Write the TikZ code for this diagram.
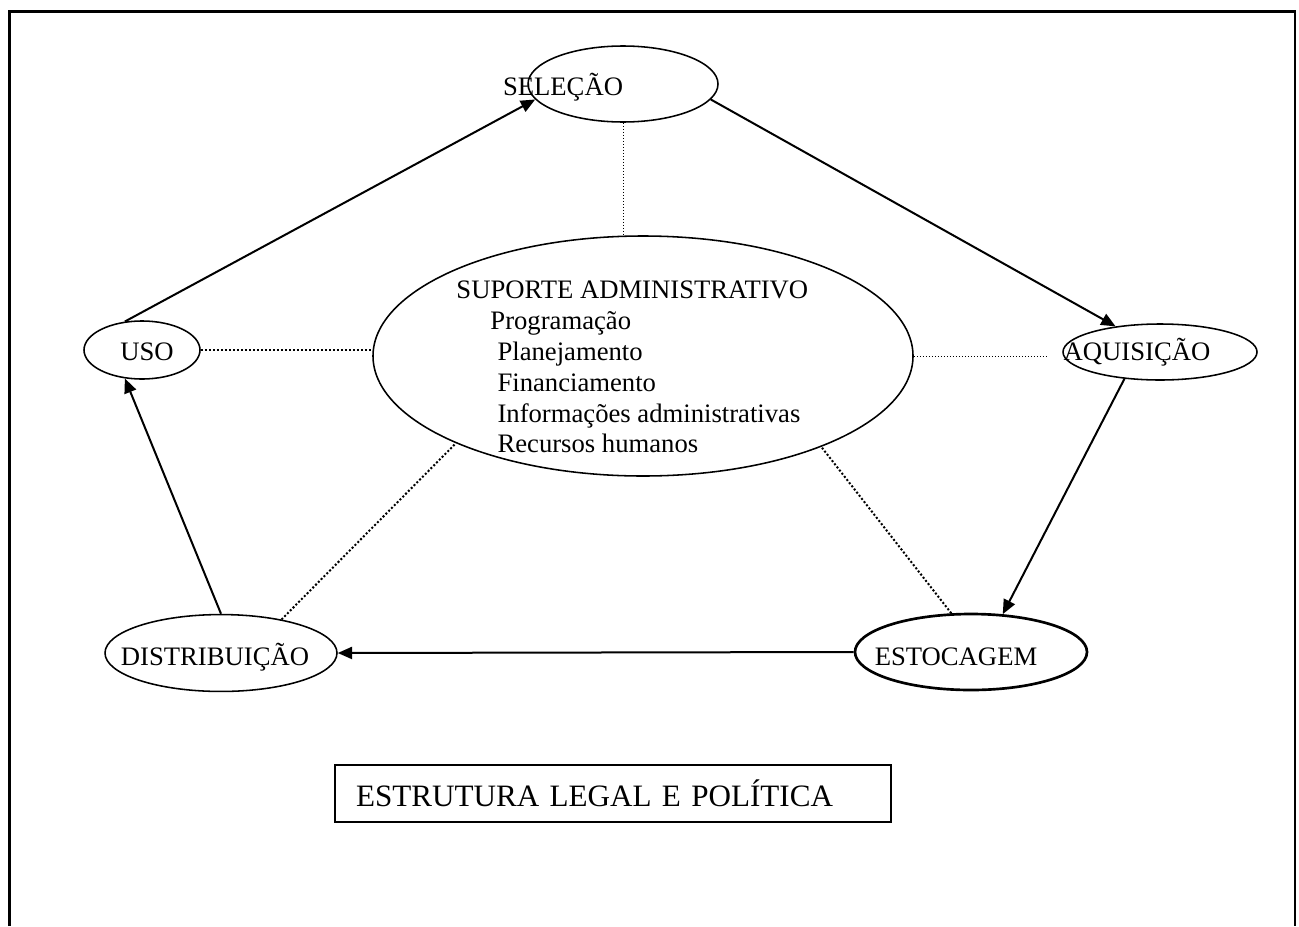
\documentclass[tikz,border=0pt]{standalone}
\usepackage{fontspec}
\setmainfont{Liberation Serif}
\usetikzlibrary{arrows.meta, shapes.geometric}

\begin{document}
\begin{tikzpicture}[x=0.45pt, y=-0.45pt,
    every node/.style={font=\fontsize{12}{13.9}\selectfont, inner sep=0pt},
    el/.style={ellipse, draw, line width=0.7pt},
    lbl/.style={inner sep=0pt},
    arr/.style={-{Triangle[length=6.5pt, width=5.5pt]}, line width=0.9pt},
    cdot/.style={line width=0.9pt, dash pattern=on 0.9pt off 0.9pt},
    fdot/.style={line width=0.45pt, dash pattern=on 0.45pt off 0.9pt},
    frame/.style={line width=1.3pt}
]
\useasboundingbox (0,0) rectangle (1299,926);
\draw[frame] (9.5,926) -- (9.5,11.5) -- (1295,11.5) -- (1295,926);

% ellipses
\node[el, minimum width=85.5pt, minimum height=34.2pt]  (sel)  at (623,84)  {};
\node[el, minimum width=87.3pt, minimum height=25.2pt]  (aq)   at (1160,352) {};
\node[el, line width=1.2pt, minimum width=104.4pt, minimum height=34.2pt] (est) at (971,652) {};
\node[el, minimum width=104.4pt, minimum height=34.6pt] (dist) at (221,653) {};
\node[el, minimum width=52.2pt, minimum height=26.1pt]  (uso)  at (142,350) {};
\node[el, minimum width=243pt, minimum height=108pt]    (sup)  at (643,356) {};

% texts
\node[lbl] (sel-t)  at (563,87)  {SELEÇÃO};
\node[lbl] (aq-t)   at (1137,352) {AQUISIÇÃO};
\node[lbl] (est-t)  at (956,657) {ESTOCAGEM};
\node[lbl] (dist-t) at (215,657) {DISTRIBUIÇÃO};
\node[lbl] (uso-t)  at (147,352) {USO};
\node[lbl, align=left, anchor=west] (sup-t) at (456,367)
  {SUPORTE ADMINISTRATIVO\\
   \hspace*{15.3pt}Programação\\
   \hspace*{18.5pt}Planejamento\\
   \hspace*{18.5pt}Financiamento\\
   \hspace*{18.5pt}Informações administrativas\\
   \hspace*{18.5pt}Recursos humanos};

% cycle
\draw[arr] (uso.121) -- (sel.190);
\draw[arr] (sel.350) -- (aq.150);
\draw[arr] (aq.217) -- (est.50);
\draw[arr] (est.west) -- (dist.east);
\draw[arr] (dist.north) -- (uso.239);

% links to the centre
\draw[fdot] (sel.south) -- (sel.south |- sup.north);
\draw[cdot] (uso.east) -- (uso.east -| sup.west);
\draw[fdot, shorten >=7pt] (sup.east) -- (sup.east -| aq.west);
\draw[cdot] (dist.29) -- (sup.205);
\draw[cdot] (est.117) -- (sup.333);

\node[draw, line width=0.7pt, minimum width=250.2pt, minimum height=25.65pt,
      text width=231.3pt, inner xsep=9.45pt, align=left,
      font=\fontsize{14}{16}\selectfont] (legal) at (613,793.5)
  {ESTRUTURA LEGAL E POLÍTICA};
\end{tikzpicture}
\end{document}
